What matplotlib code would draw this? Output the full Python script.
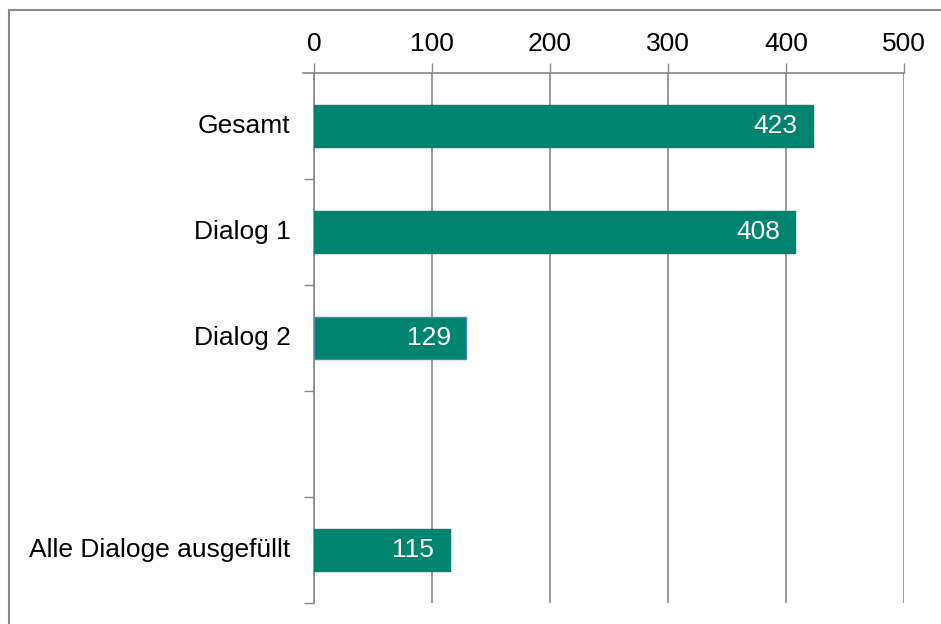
import matplotlib
matplotlib.use('Agg')
import matplotlib.pyplot as plt
from matplotlib.patches import Rectangle

plt.rcParams['font.family'] = ['Liberation Sans', 'DejaVu Sans']

categories = ['Gesamt', 'Dialog 1', 'Dialog 2', '', 'Alle Dialoge ausgefüllt']
values = [423, 408, 129, None, 115]
xticks = [0, 100, 200, 300, 400, 500]

C_BAR = '#00846F'
C_AXIS = '#888888'
FS = 19

W, H = 941, 624
fig = plt.figure(figsize=(W / 100, H / 100), dpi=100)
ax = fig.add_axes([314 / W, 1 - 603 / H, (904 - 314) / W, (603 - 73) / H])

# outer frame (left + top visible, rest runs off the picture)
fig.patches.append(Rectangle((9 / W, -0.1), 1.2, 1 - 10 / H + 0.1, transform=fig.transFigure,
                             fill=False, edgecolor=C_AXIS, linewidth=1.5, zorder=0))

n = len(categories)
ys = list(range(n))
for y, v in zip(ys, values):
    if v is None:
        continue
    edge = '#4F81BD' if y == 2 else C_BAR
    ax.barh(y, v, height=0.4, color=C_BAR, edgecolor=edge, linewidth=1.0, zorder=3)
    ax.text(v - 13, y, str(v), ha='right', va='center', color='white', fontsize=FS, zorder=4)

ax.set_xlim(0, 500)
ax.set_ylim(n - 0.5, -0.5)
ax.xaxis.tick_top()
ax.set_xticks(xticks)
ax.set_xticklabels([str(t) for t in xticks], fontsize=FS)
ax.tick_params(axis='x', length=7, width=1, color=C_AXIS, pad=5, direction='out')
ax.grid(axis='x', color=C_AXIS, linewidth=1.2, zorder=1)

# category labels at centres, tick marks at boundaries
ax.set_yticks([y + 0.5 for y in ys])
ax.set_yticklabels([])
ax.tick_params(axis='y', length=7, width=1, color=C_AXIS, direction='out')
for y, c in zip(ys, categories):
    ax.text(-20, y, c, ha='right', va='center', fontsize=FS, color='black')

for s in ['right', 'bottom']:
    ax.spines[s].set_visible(False)
for s in ['top', 'left']:
    ax.spines[s].set_color(C_AXIS)
    ax.spines[s].set_linewidth(1.2)
ax.spines['top'].set_bounds(-9, 500)

fig.savefig('out.png', dpi=100)
